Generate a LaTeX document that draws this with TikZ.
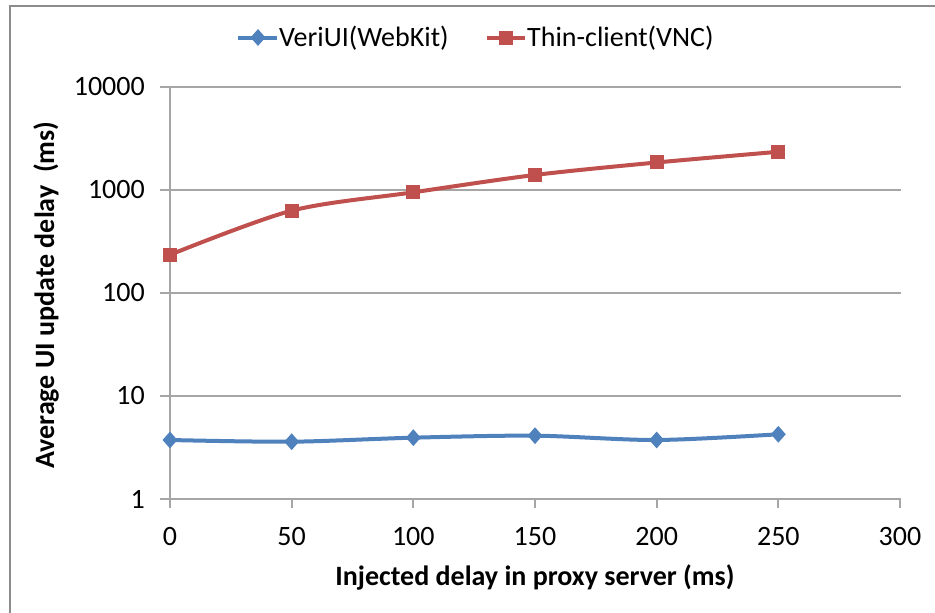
\documentclass[tikz,border=0pt]{standalone}
\usepackage{fontspec}
\setmainfont{Carlito}
\usetikzlibrary{shapes.geometric}
\definecolor{sblue}{HTML}{4F81BD}
\definecolor{sred}{HTML}{C0504D}
\definecolor{gridgray}{HTML}{A6A6A6}
\definecolor{framegray}{HTML}{8C8C8C}
\tikzset{
  gridline/.style={draw=gridgray, line width=1.8pt},
  frameline/.style={draw=framegray, line width=2pt},
  ticklab/.style={font=\fontsize{28}{32}\selectfont, inner sep=0pt},
  axtitle/.style={font=\fontsize{28}{32}\selectfont\bfseries, inner sep=0pt},
  bluecurve/.style={draw=sblue, line width=4pt, line join=round, line cap=round},
  redcurve/.style={draw=sred, line width=4pt, line join=round, line cap=round},
  bluemk/.style={diamond, fill=sblue, inner sep=0pt, minimum width=15pt, minimum height=17pt},
  redmk/.style={rectangle, fill=sred, inner sep=0pt, minimum size=14pt},
}
\begin{document}
\begin{tikzpicture}[x=1pt,y=-1pt]
\useasboundingbox (0,0) rectangle (935,613);
\fill[white] (0,0) rectangle (935,613);
% chart frame
\draw[frameline] (9.5,613) -- (9.5,5.5) -- (935,5.5);
% horizontal grid lines and y labels
\foreach \d/\lab in {0/1,1/10,2/100,3/1000,4/10000}{
  \draw[gridline] (160,{499-103*\d}) -- (901,{499-103*\d});
  \node[ticklab, anchor=east] (ylab\d) at (145,{499-103*\d}) {\lab};
}
% y axis
\draw[gridline] (170,87) -- (170,508);
% x ticks and labels
\foreach \k in {0,1,...,6}{
  \pgfmathtruncatemacro{\v}{50*\k}
  \draw[gridline] ({170+121.667*\k},499) -- ({170+121.667*\k},508);
  \node[ticklab] (xlab\k) at ({170+121.667*\k},537) {\v};
}
% axis titles
\node[axtitle] (xtitle) at (535,577) {Injected delay in proxy server (ms)};
\node[axtitle, rotate=90] (ytitle) at (46,295) {Average UI update delay\ \ (ms)};
% data coordinates
\foreach \i/\x/\v in {0/0/235,1/50/630,2/100/950,3/150/1400,4/200/1850,5/250/2350}{
  \coordinate (r\i) at ({170+2.43333*\x},{499-103*log10(\v)});
}
\foreach \i/\x/\v in {0/0/3.74,1/50/3.6,2/100/3.94,3/150/4.12,4/200/3.74,5/250/4.25}{
  \coordinate (b\i) at ({170+2.43333*\x},{499-103*log10(\v)});
}
\draw[redcurve] plot[smooth, tension=0.5] coordinates {(r0) (r1) (r2) (r3) (r4) (r5)};
\draw[bluecurve] plot[smooth, tension=0.5] coordinates {(b0) (b1) (b2) (b3) (b4) (b5)};
\foreach \i in {0,...,5}{
  \node[redmk] (rm\i) at (r\i) {};
  \node[bluemk] (bm\i) at (b\i) {};
}
% legend
\coordinate (lbA) at (238,37.5);
\coordinate (lbB) at (277,37.5);
\draw[bluecurve, line cap=butt] (lbA) -- (lbB);
\node[bluemk] (lbm) at (258,37.5) {};
\node[ticklab, anchor=base west] (lbt) at (279,46) {VeriUI(WebKit)};
\coordinate (lrA) at (487,37.5);
\coordinate (lrB) at (525,37.5);
\draw[redcurve, line cap=butt] (lrA) -- (lrB);
\node[redmk] (lrm) at (506,37.5) {};
\node[ticklab, anchor=base west] (lrt) at (527,46) {Thin-client(VNC)};
\end{tikzpicture}
\end{document}
